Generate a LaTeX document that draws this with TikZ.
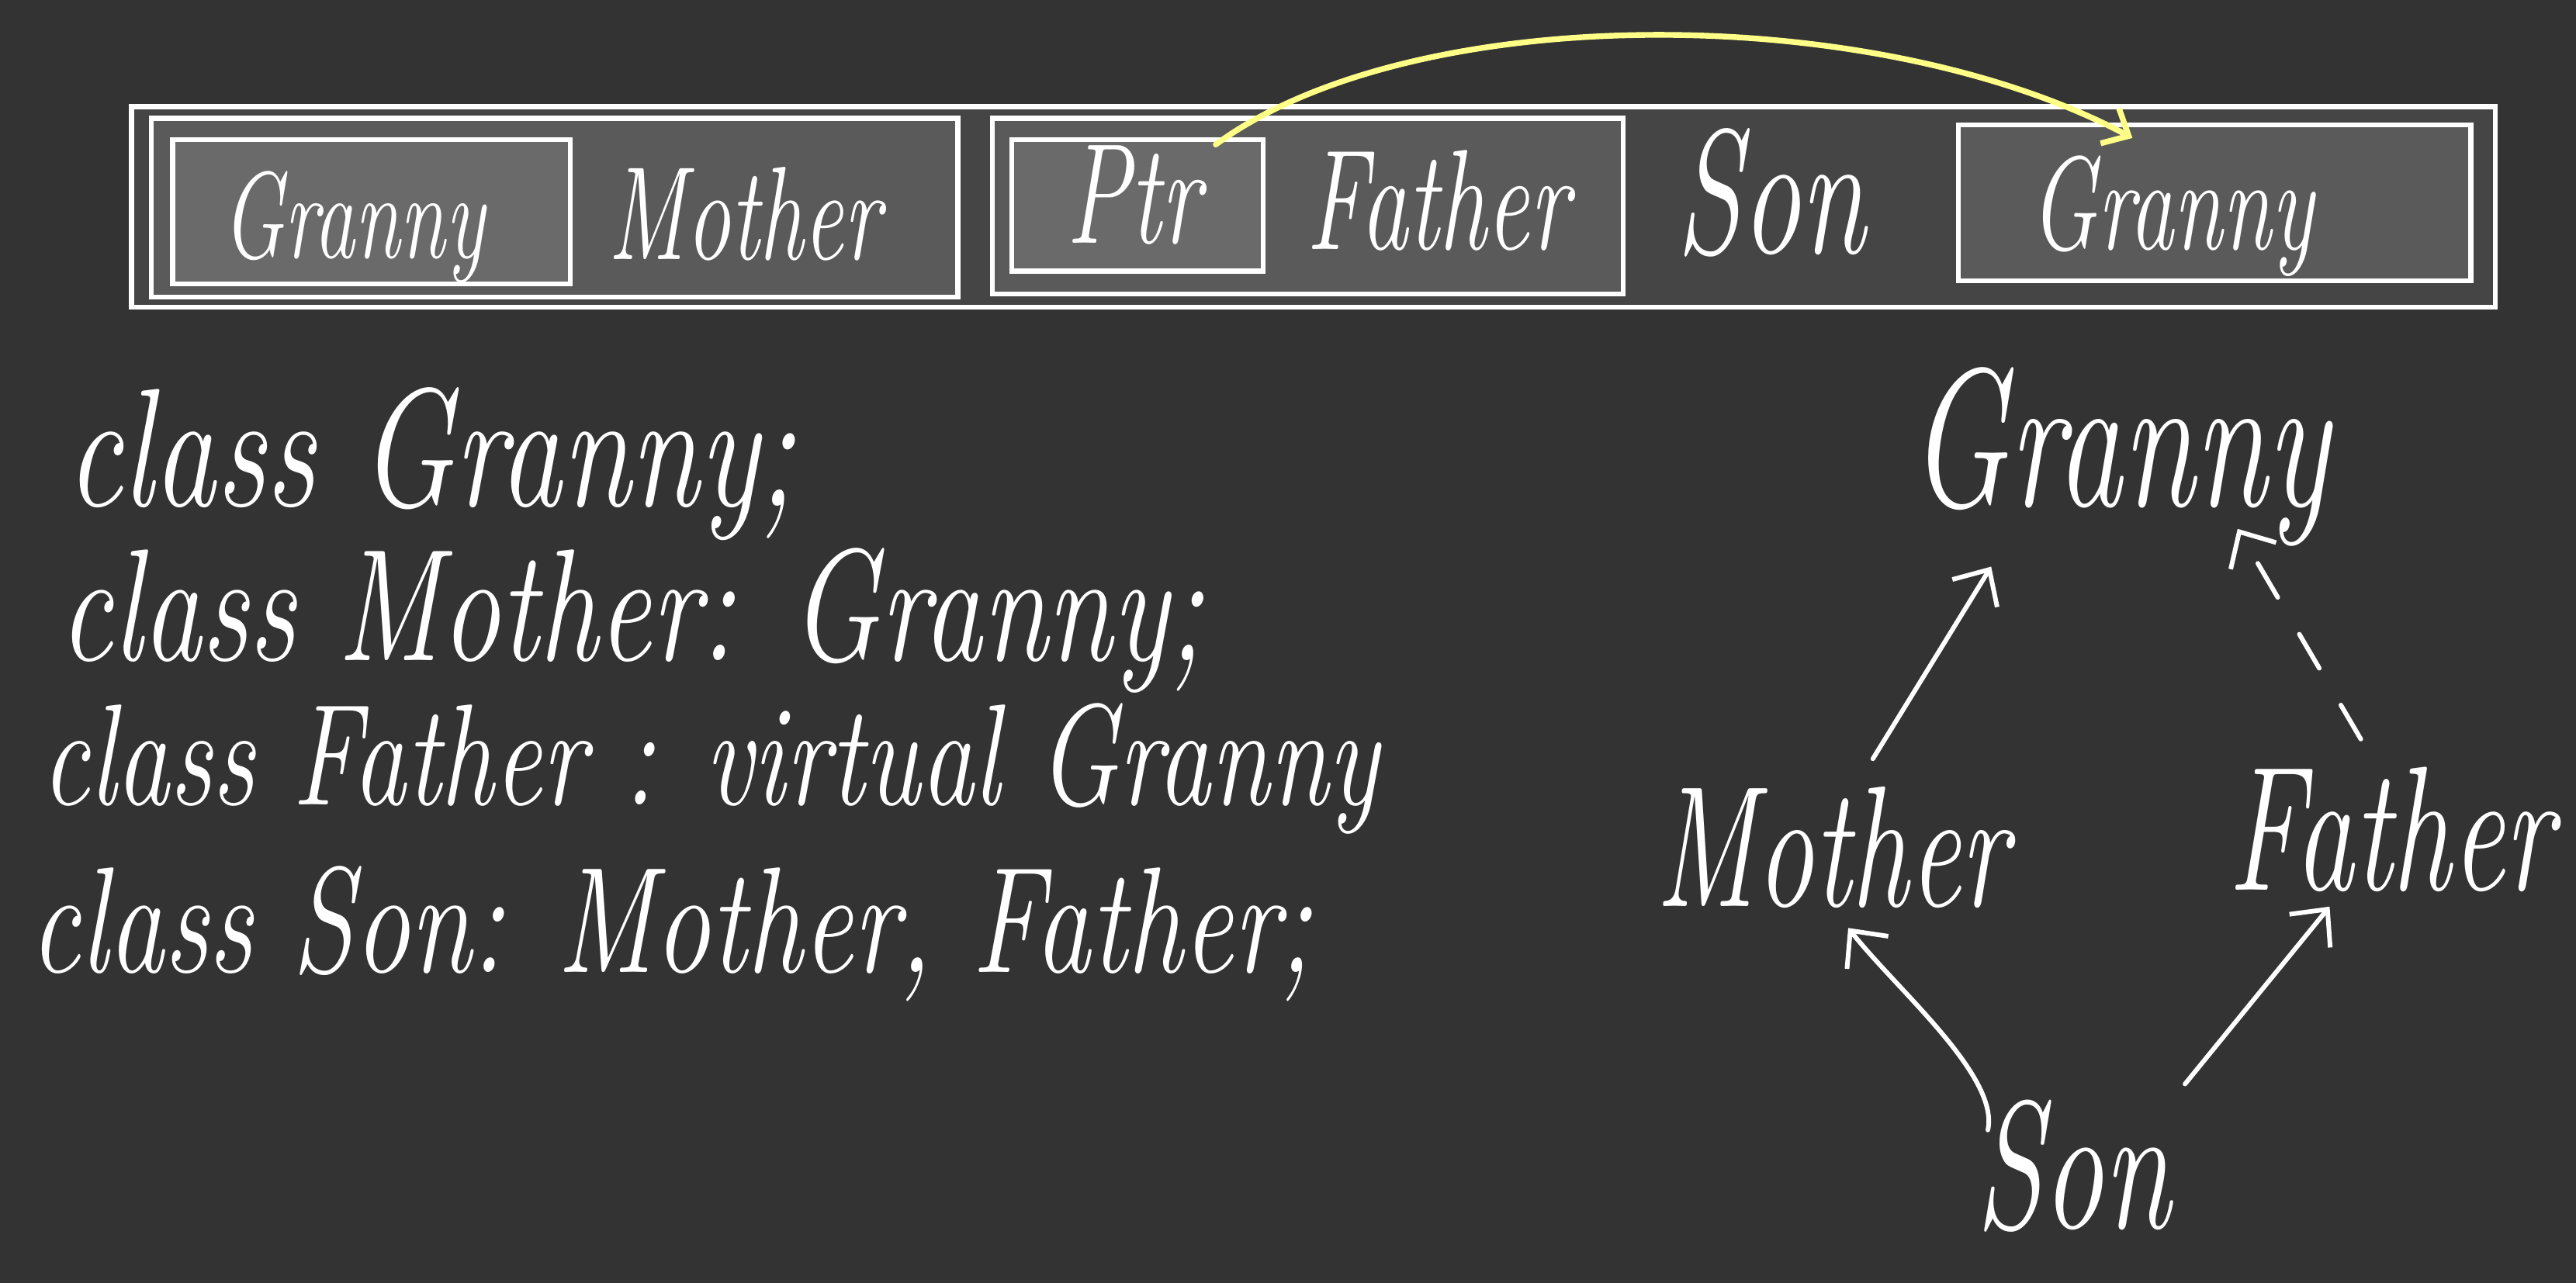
\documentclass[tikz,border=0pt]{standalone}
\usepackage{fontspec}
\usepackage{graphicx}
\usetikzlibrary{arrows.meta,calc}
\definecolor{bg}{HTML}{333333}
\definecolor{barfill}{HTML}{454545}
\definecolor{subfill}{HTML}{5A5A5A}
\definecolor{infill}{HTML}{6A6A6A}
\definecolor{hl}{HTML}{FFFF88}
\newcommand{\hwt}[1]{\scalebox{1}[1.5]{#1}}
\newcommand{\hwc}[1]{\scalebox{1}[1.35]{#1}}
\tikzset{
  hw/.style={text=white, inner sep=0pt, font=\fontsize{#1pt}{#1pt}\selectfont\itshape},
  membox/.style={draw=white, line width=3pt, rectangle, inner sep=0pt, outer sep=0pt},
  inh/.style={draw=white, line width=2.8pt, line cap=round,
    -{Straight Barb[length=17pt,width=32pt]}},
  vptr/.style={draw=hl, line width=3.5pt, line cap=round,
    -{Straight Barb[length=13pt,width=24pt]}},
}
\begin{document}
\begin{tikzpicture}[x=1pt,y=-1pt]
\fill[bg] (0,0) rectangle (1568,781);
\useasboundingbox (0,0) rectangle (1568,781);

% memory layout bar
\node[membox, fill=barfill, minimum width=1439pt, minimum height=122pt] (bar) at (799.5,126) {};
\node[membox, fill=subfill, minimum width=491pt, minimum height=109pt] (mothersub) at (337.5,126.5) {};
\node[membox, fill=infill, minimum width=242pt, minimum height=88pt] (grannyin) at (226,129) {};
\node[membox, fill=subfill, minimum width=384pt, minimum height=107pt] (fathersub) at (796,125.5) {};
\node[membox, fill=infill, minimum width=153pt, minimum height=80pt] (ptrbox) at (692.5,125) {};
\node[membox, fill=subfill, minimum width=312pt, minimum height=95pt] (grannyvb) at (1348,123.5) {};

\node[hw=50, anchor=base] (tGranny) at (215,157) {\hwt{Granny}};
\node[hw=54, anchor=base] (tMother) at (453,158) {\hwt{Mother}};
\node[hw=58, anchor=base] (tPtr) at (690,148) {\hwt{Ptr}};
\node[hw=58, anchor=base] (tFather) at (875,152) {\hwt{Father}};
\node[hw=72, anchor=base] (tSon) at (1078,154) {\hwt{Son}};
\node[hw=54, anchor=base] (tGranny2) at (1322,152) {\hwt{Granny}};

\draw[vptr] ($(ptrbox.north east)+(-29,3)$) .. controls (860,0) and (1140,0) .. ($(grannyvb.north west)+(106,8)$);

% code
\node[hw=76, anchor=base west] (c1) at (40,308) {\hwc{class Granny;}};
\node[hw=72, anchor=base west] (c2) at (36,402) {\hwc{class Mother: Granny;}};
\node[hw=65, anchor=base west] (c3) at (25,490) {\hwc{class Father : virtual Granny}};
\node[hw=68, anchor=base west] (c4) at (18,592) {\hwc{class Son: Mother, Father;}};

% hierarchy
\node[hw=80, anchor=base] (gGranny) at (1290,308) {\hwt{Granny}};
\node[hw=70, anchor=base] (gMother) at (1115,552) {\hwt{Mother}};
\node[hw=72, anchor=base] (gFather) at (1455,542) {\hwt{Father}};
\node[hw=74, anchor=base] (gSon) at (1262,748) {\hwt{Son}};

\draw[inh] ($(gMother.base)+(25,-90)$) -- ($(gGranny.base)+(-78,37)$);
\draw[inh, dash pattern=on 24pt off 26pt] ($(gFather.base)+(-18,-92)$) -- ($(gGranny.base)+(72,14)$);
\draw[inh] ($(gSon.base)+(-52,-60)$) .. controls ($(gSon.base)+(-45,-93)$) and ($(gMother.base)+(40,51)$) .. ($(gMother.base)+(10,13)$);
\draw[inh] ($(gSon.base)+(68,-88)$) -- ($(gFather.base)+(-37,10)$);
\end{tikzpicture}
\end{document}
